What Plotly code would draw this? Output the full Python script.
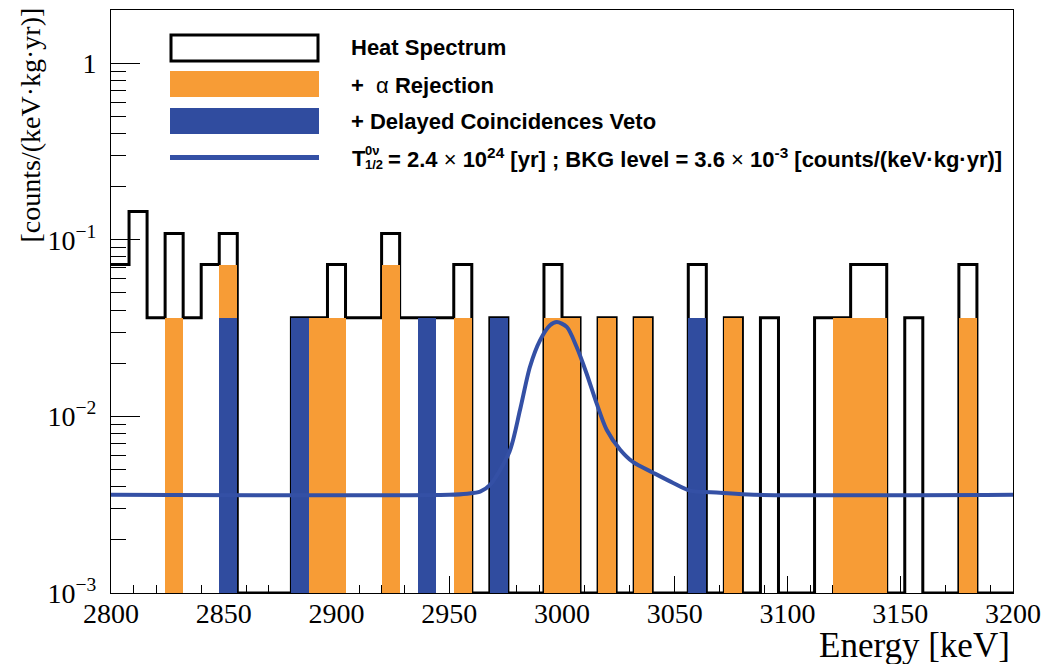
import math
import plotly.graph_objects as go

# ---------------- data ----------------
E_MIN, E_MAX, BIN_W = 2800, 3200, 8          # keV
bin_edges = list(range(E_MIN, E_MAX + 1, BIN_W))   # 50 bins of 8 keV

# events per 8 keV bin
heat_counts = [2, 4, 1, 3, 1, 2, 3, 0, 0, 0,
               1, 1, 2, 1, 1, 3, 1, 1, 1, 2,
               0, 1, 0, 0, 2, 1, 0, 1, 0, 1,
               0, 0, 2, 0, 1, 0, 1, 0, 0, 1,
               1, 2, 2, 0, 1, 0, 0, 2, 0, 0]
alpha_counts = [0, 0, 0, 1, 0, 0, 2, 0, 0, 0,
                1, 1, 1, 0, 0, 2, 0, 1, 0, 1,
                0, 1, 0, 0, 1, 1, 0, 1, 0, 1,
                0, 0, 1, 0, 1, 0, 0, 0, 0, 0,
                1, 1, 1, 0, 0, 0, 0, 1, 0, 0]
dcv_counts = [0, 0, 0, 0, 0, 0, 1, 0, 0, 0,
              1, 0, 0, 0, 0, 0, 0, 1, 0, 0,
              0, 1, 0, 0, 0, 0, 0, 0, 0, 0,
              0, 0, 1, 0, 0, 0, 0, 0, 0, 0,
              0, 0, 0, 0, 0, 0, 0, 0, 0, 0]
RATE_PER_COUNT = 0.0362   # counts/(keV kg yr) for one event in a bin

# fitted curve, read point by point
fit_energy = [2800, 2950, 2958, 2963.7, 2968.1, 2976.7, 2981.4, 2985.8, 2990.3,
              2994.7, 2997.7, 3002.1, 3006.5, 3010.9, 3015.4, 3019.8, 3025.7,
              3031.6, 3040.4, 3049.3, 3056.7, 3070, 3085, 3200]
fit_rate = [3.6e-3, 3.6e-3, 3.65e-3, 3.75e-3, 4.09e-3, 6.31e-3, 0.0109, 0.0191, 0.0270,
            0.0328, 0.0342, 0.0321, 0.0247, 0.0175, 0.0118, 0.0084, 0.0065,
            0.0055, 0.0048, 0.0042, 0.0038, 0.0037, 3.6e-3, 3.6e-3]

x_tick_vals = list(range(2800, 3201, 50))
y_tick_vals = [1e-3, 1e-2, 1e-1, 1]
y_tick_text = ["10<sup>\u22123</sup>", "10<sup>\u22122</sup>", "10<sup>\u22121</sup>", "1"]
Y_MIN, Y_MAX = 1e-3, 2.0

# ---------------- styling ----------------
ORANGE = "#F79C36"
BLUE = "#304C9F"
CURVE = "#3450A5"
SERIF = "Liberation Serif"
SANS = "Liberation Sans"

W, H = 1043, 664
PL, PR, PT, PB = 111, 1013, 10, 593       # plot area in window pixels
ML, MT, MR, MB = PL, PT, W - PR, H - PB
PW, PH = PR - PL, PB - PT


def px(xp):
    return (xp - PL) / PW


def py(yp):
    return (PB - yp) / PH


centers = [e + BIN_W / 2 for e in bin_edges[:-1]]
heat_rate = [c * RATE_PER_COUNT if c > 0 else Y_MIN for c in heat_counts]
alpha_rate = [c * RATE_PER_COUNT if c > 0 else None for c in alpha_counts]
dcv_rate = [c * RATE_PER_COUNT if c > 0 else None for c in dcv_counts]

fig = go.Figure()

# heat spectrum outline (base subplot, drawn underneath)
fig.add_trace(go.Scatter(
    x=bin_edges, y=heat_rate + [heat_rate[-1]], mode="lines",
    line=dict(shape="hv", color="black", width=3),
    xaxis="x", yaxis="y", showlegend=False, hoverinfo="skip"))

# filled histograms (overlay subplot, drawn on top)
fig.add_trace(go.Bar(
    x=centers, y=alpha_rate, width=BIN_W,
    marker=dict(color=ORANGE, line=dict(width=0)),
    xaxis="x2", yaxis="y2", showlegend=False))
fig.add_trace(go.Bar(
    x=centers, y=dcv_rate, width=BIN_W,
    marker=dict(color=BLUE, line=dict(width=0)),
    xaxis="x2", yaxis="y2", showlegend=False))
fig.add_trace(go.Scatter(
    x=fit_energy, y=fit_rate, mode="lines",
    line=dict(shape="spline", smoothing=0.8, color=CURVE, width=4),
    xaxis="x2", yaxis="y2", showlegend=False))

y_minor = []
for d in (1e-3, 1e-2, 1e-1):
    y_minor += [k * d for k in range(2, 10)]
y_minor.append(2.0)

yr = [math.log10(Y_MIN), math.log10(Y_MAX)]

fig.update_layout(
    width=W, height=H,
    margin=dict(l=ML, r=MR, t=MT, b=MB, pad=0, autoexpand=False),
    paper_bgcolor="white", plot_bgcolor="white",
    barmode="overlay", bargap=0,
    showlegend=False,
    xaxis=dict(
        range=[E_MIN, E_MAX], tickmode="array", tickvals=x_tick_vals,
        ticks="inside", ticklen=17, tickwidth=1, tickcolor="black",
        minor=dict(ticks="inside", ticklen=8, tickwidth=1, tickcolor="black",
                   tick0=2800, dtick=10, showgrid=False),
        showline=True, linecolor="black", linewidth=1, mirror=True,
        showgrid=False, zeroline=False, layer="below traces",
        tickfont=dict(family=SERIF, size=28, color="black"),
        ticklabelstandoff=-5, ticklabeloverflow="allow", automargin=False,
    ),
    yaxis=dict(
        type="log", range=yr, tickmode="array", tickvals=y_tick_vals,
        ticktext=y_tick_text,
        ticks="inside", ticklen=29, tickwidth=1, tickcolor="black",
        minor=dict(ticks="inside", ticklen=15, tickwidth=1, tickcolor="black",
                   tickmode="array", tickvals=y_minor, showgrid=False),
        showline=True, linecolor="black", linewidth=1, mirror=True,
        showgrid=False, zeroline=False, automargin=False,
        tickfont=dict(family=SERIF, size=28, color="black"),
        ticklabelstandoff=8,
    ),
    xaxis2=dict(range=[E_MIN, E_MAX], overlaying="x", anchor="y2",
                visible=False, showgrid=False, zeroline=False),
    yaxis2=dict(type="log", range=yr, overlaying="y", anchor="x2",
                visible=False, showgrid=False, zeroline=False),
)

# ---------------- legend (drawn by hand, ROOT style) ----------------
shapes = [
    dict(type="rect", xref="paper", yref="paper", x0=px(171), x1=px(318),
         y0=py(61), y1=py(35), line=dict(color="black", width=3), fillcolor="white"),
    dict(type="rect", xref="paper", yref="paper", x0=px(170), x1=px(319),
         y0=py(97), y1=py(71), line=dict(width=0), fillcolor=ORANGE),
    dict(type="rect", xref="paper", yref="paper", x0=px(170), x1=px(319),
         y0=py(134), y1=py(108), line=dict(width=0), fillcolor=BLUE),
    dict(type="line", xref="paper", yref="paper", x0=px(170), x1=px(319),
         y0=py(157.5), y1=py(157.5), line=dict(color=CURVE, width=5)),
]

LF = 22
ann = []


def txt(x, y, s, size=LF, family=SANS, xanchor="left", yanchor="middle", angle=0):
    ann.append(dict(x=x, y=y, xref="paper", yref="paper", text=s, showarrow=False,
                    xanchor=xanchor, yanchor=yanchor, textangle=angle,
                    font=dict(family=family, size=size, color="black")))


txt(px(349), py(47.5), "<b>Heat Spectrum</b>")
txt(px(349), py(85), "<b>+ </b>\u00a0\u03b1 <b>Rejection</b>")
txt(px(349), py(121), "<b>+ Delayed Coincidences Veto</b>")
txt(px(350), py(158), "<b>T</b>")
txt(px(363), py(150.5), "<b>0\u03bd</b>", size=13)
txt(px(363), py(165), "<b>1/2</b>", size=13)
txt(px(386), py(158),
    "<b>= 2.4</b> \u00d7 <b>10<sup>24</sup> [yr] ; BKG level = 3.6</b> \u00d7 "
    "<b>10<sup>-3</sup> [counts/(keV\u00b7kg\u00b7yr)]</b>")

# axis titles (ROOT style: placed at the axis ends)
txt(px(1012), py(645), "Energy [keV]", size=35, family=SERIF, xanchor="right")
txt(px(30), py(6), "[counts/(keV\u00b7kg\u00b7yr)]", size=28, family=SERIF,
    xanchor="center", yanchor="top", angle=-90)

fig.update_layout(shapes=shapes, annotations=ann)

# remove the default 8 px page margin so the figure fills the window exactly
fig.write_html("out.html",
               config={"displayModeBar": False},
               post_script="document.body.style.margin='0';"
                           "document.body.style.overflow='hidden';")
